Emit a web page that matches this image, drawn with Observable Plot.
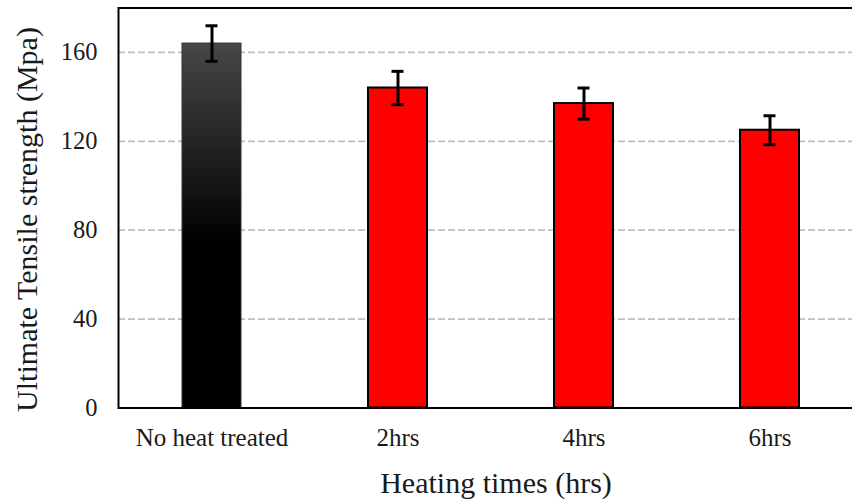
<!DOCTYPE html>
<html><head><meta charset="utf-8">
<script src="https://cdn.jsdelivr.net/npm/d3@7"></script>
<script src="https://cdn.jsdelivr.net/npm/@observablehq/plot@0.6"></script>
<style>body{margin:0;background:#fff}</style>
</head><body><div id="chart"></div>
<script>
const categories = ["No heat treated", "2hrs", "4hrs", "6hrs"];
const strength = [164, 144, 137, 125];
const errors = [8, 7.5, 7, 6.5];
const yTicks = [0, 40, 80, 120, 160];
const gridTicks = [40, 80, 120, 160];
const xTitle = "Heating times (hrs)";
const yTitle = "Ultimate Tensile strength (Mpa)";

const data = categories.map((c, i) => ({cat: c, v: strength[i], e: errors[i], lo: strength[i] - errors[i], hi: strength[i] + errors[i]}));
const first = data.slice(0, 1);
const rest = data.slice(1);

const font = "'Liberation Serif', 'Times New Roman', serif";

const chart = Plot.plot({
  width: 852,
  height: 501,
  marginLeft: 118,
  marginRight: 0,
  marginTop: 7.5,
  marginBottom: 93.5,
  style: {fontFamily: font, color: "#1a1a1a", background: "#fff"},
  x: {domain: categories, range: [118, 862], paddingInner: 0.683, paddingOuter: 0.3415, align: 0.5, label: null},
  y: {domain: [0, 180], label: null},
  marks: [
    Plot.ruleY(gridTicks, {stroke: "#bfbfbf", strokeWidth: 1.8, strokeDasharray: "7,3"}),
    Plot.barY(first, {x: "cat", y: "v", fill: "url(#gradBlack)", stroke: "#333", strokeWidth: 1}),
    Plot.barY(rest, {x: "cat", y: "v", fill: "#ff0000", stroke: "#000", strokeWidth: 2, ariaLabel: "red-bars"}),
    Plot.ruleX(data, {x: "cat", y1: "lo", y2: "hi", stroke: "#000", strokeWidth: 3}),
    Plot.tickY(data, {x: "cat", y: "hi", stroke: "#000", strokeWidth: 3, insetLeft: 23.5, insetRight: 23.5}),
    Plot.tickY(data, {x: "cat", y: "lo", stroke: "#000", strokeWidth: 3, insetLeft: 23.5, insetRight: 23.5}),
    Plot.ruleY([0], {stroke: "#000", strokeWidth: 2}),
    Plot.ruleY([180], {stroke: "#000", strokeWidth: 2}),
    Plot.frame({anchor: "left", stroke: "#000", strokeWidth: 2}),
    Plot.axisX({tickSize: 0, tickPadding: 20, fontSize: 25, label: null}),
    Plot.axisY({ticks: yTicks, tickSize: 0, tickPadding: 21, fontSize: 24.5, label: null}),
    Plot.text([xTitle], {frameAnchor: "bottom", dx: 10.5, dy: 85, fontSize: 30, fill: "#1a1a1a"}),
    Plot.text([yTitle], {frameAnchor: "left", textAnchor: "middle", rotate: -90, dx: -91, dy: 11.5, fontSize: 30, fill: "#1a1a1a"})
  ]
});

const svg = d3.select(chart);
const defs = svg.insert("defs", ":first-child");
const g = defs.append("linearGradient").attr("id", "gradBlack").attr("x1", 0).attr("y1", 0).attr("x2", 0).attr("y2", 1);
g.append("stop").attr("offset", "0").attr("stop-color", "#474747");
g.append("stop").attr("offset", "0.55").attr("stop-color", "#000");
g.append("stop").attr("offset", "1").attr("stop-color", "#000");
const f = defs.append("filter").attr("id", "shadow").attr("x", "-20%").attr("y", "-20%").attr("width", "150%").attr("height", "150%");
f.append("feDropShadow").attr("dx", 3).attr("dy", 2).attr("stdDeviation", 2).attr("flood-color", "#000").attr("flood-opacity", 0.35);
svg.selectAll("g[aria-label='red-bars']").attr("filter", "url(#shadow)");

document.getElementById("chart").appendChild(chart);
</script>
</body></html>
